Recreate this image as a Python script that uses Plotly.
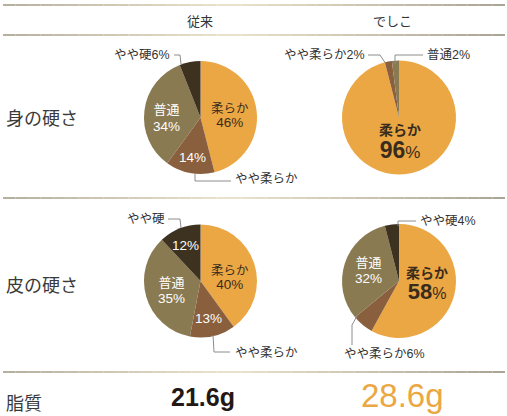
import plotly.graph_objects as go

W, H = 507, 416

categories = ["柔らか", "やや柔らか", "普通", "やや硬"]
colors = ["#EBA744", "#8A5F3D", "#8A7A52", "#3D3120"]
columns = ["従来", "でしこ"]
rows = ["身の硬さ", "皮の硬さ", "脂質"]

flesh_old = [46, 14, 34, 6]
flesh_new = [96, 2, 2, 0]
skin_old = [40, 13, 35, 12]
skin_new = [58, 6, 32, 4]
fat_old = 21.6
fat_new = 28.6

CJK = "Noto Sans CJK JP"
MIX = "Liberation Sans, Noto Sans CJK JP"
DARK = "#3a2c1c"
TXT = "#333333"


def px(x):
    return x / W


def py(y):
    return 1 - y / H


fig = go.Figure()

pie_boxes = [
    (flesh_old, 144, 257, 60, 175),
    (flesh_new, 342, 456, 60, 175),
    (skin_old, 144, 257, 224, 338),
    (skin_new, 342, 456, 224, 338),
]
for vals, x0, x1, y0, y1 in pie_boxes:
    fig.add_trace(go.Pie(
        labels=categories, values=vals, sort=False, direction="clockwise",
        rotation=0, marker=dict(colors=colors, line=dict(width=0)),
        textinfo="none", hoverinfo="label+percent", showlegend=False,
        domain=dict(x=[px(x0), px(x1)], y=[py(y1), py(y0)]),
    ))

ann = []


def t(x, y, text, size=12.5, color=TXT, xa="center", ya="middle", family=MIX):
    ann.append(dict(x=px(x), y=py(y), xref="paper", yref="paper", text=text,
                    showarrow=False, xanchor=xa, yanchor=ya, borderpad=0,
                    font=dict(family=family, size=size, color=color)))


def two(x, y, l1, s1, l2, s2, base, color, big=False):
    if big:
        txt = (f"<span style='font-size:{s1}px'><b>{l1}</b></span><br>"
               f"<span style='font-size:{s2}px'><b>{l2}</b></span>"
               f"<span style='font-size:{s2 * 0.72:.0f}px'>%</span>")
    else:
        txt = (f"<span style='font-size:{s1}px'>{l1}</span><br>"
               f"<span style='font-size:{s2}px'>{l2}%</span>")
    t(x, y, txt, base, color)


# headers / row labels
t(200, 20, columns[0], 13, "#333", family=CJK)
t(392, 20, columns[1], 13, "#333", family=CJK)
t(5, 117, rows[0], 18, "#3a3a3a", "left", family=CJK)
t(5, 284, rows[1], 18, "#3a3a3a", "left", family=CJK)
t(5, 402, rows[2], 18, "#3a3a3a", "left", family=CJK)
t(203, 412, f"<b>{fat_old}g</b>", 25, "#231815", ya="bottom", family="Liberation Sans")
t(402, 415, f"{fat_new}g", 33, "#EBA744", ya="bottom", family="Liberation Sans")

# pie 1
two(230, 116, categories[0], 12.5, flesh_old[0], 13.5, 10.5, DARK)
two(166, 118, categories[2], 13, flesh_old[2], 13.5, 13, "white")
t(192, 157, f"{flesh_old[1]}%", 13.5, "white")
t(171, 55, f"{categories[3]}{flesh_old[3]}%", 12.5, TXT, "right")
t(234, 179, categories[1], 12.5, TXT, "left")

# pie 2
two(400, 142, categories[0], 14, flesh_new[0], 23, 18, DARK, big=True)
t(366, 55, f"{categories[1]}{flesh_new[1]}%", 12.5, TXT, "right")
t(426, 55, f"{categories[2]}{flesh_new[2]}%", 12.5, TXT, "left")

# pie 3
t(166, 219, categories[3], 12.5, TXT, "right")
t(185, 245, f"{skin_old[3]}%", 13.5, "white")
two(230, 278, categories[0], 12.5, skin_old[0], 13.5, 10.5, DARK)
two(171, 290, categories[2], 13, skin_old[2], 13.5, 12.5, "white")
t(208, 318, f"{skin_old[1]}%", 13.5, "white")
t(234, 353, categories[1], 12.5, TXT, "left")

# pie 4
t(419, 221, f"{categories[3]}{skin_new[3]}%", 12.5, TXT, "left")
two(368, 270, categories[2], 13, skin_new[2], 13.5, 12.5, "white")
two(427, 284, categories[0], 14, skin_new[0], 22, 16, DARK, big=True)
t(343, 354, f"{categories[1]}{skin_new[1]}%", 12.5, TXT, "left")

shapes = []


def path(pts, color="#8c8c8c"):
    d = "M " + " L ".join(f"{px(x)},{py(y)}" for x, y in pts)
    shapes.append(dict(type="path", path=d, xref="paper", yref="paper",
                       line=dict(color=color, width=1)))


path([(174, 55), (180, 55), (181, 64)])
path([(195, 173), (195, 181), (231, 181)])
path([(368, 55), (380, 55), (386, 64)])
path([(395, 64), (395, 55), (423, 55)])
path([(168, 219), (180, 219), (181, 228)])
path([(213, 335), (214, 352), (230, 352)])
path([(398, 226), (398, 221), (416, 221)])
path([(357, 316), (352, 325), (352, 345)])


def hline(y):
    n = 40
    x0, x1 = 3, 505
    for i in range(n):
        f = i / (n - 1)
        m = 1 - abs(f - 0.45) / 0.55
        m = max(0, min(1, m))
        c0 = (170, 165, 150)
        c1 = (235, 228, 205)
        c = tuple(int(c0[k] + (c1[k] - c0[k]) * m) for k in range(3))
        xa = x0 + (x1 - x0) * i / n
        xb = x0 + (x1 - x0) * (i + 1) / n
        shapes.append(dict(type="line", xref="paper", yref="paper",
                           x0=px(xa), x1=px(xb), y0=py(y), y1=py(y),
                           line=dict(color=f"rgb{c}", width=2)))


for y in (5, 35, 198, 372):
    hline(y)

fig.update_layout(
    width=W, height=H, margin=dict(l=0, r=0, t=0, b=0),
    paper_bgcolor="white", plot_bgcolor="white",
    annotations=ann, shapes=shapes,
)
fig.write_html("out.html", config={"displayModeBar": False},
               post_script="document.body.style.margin='0';document.body.style.overflow='hidden';")
